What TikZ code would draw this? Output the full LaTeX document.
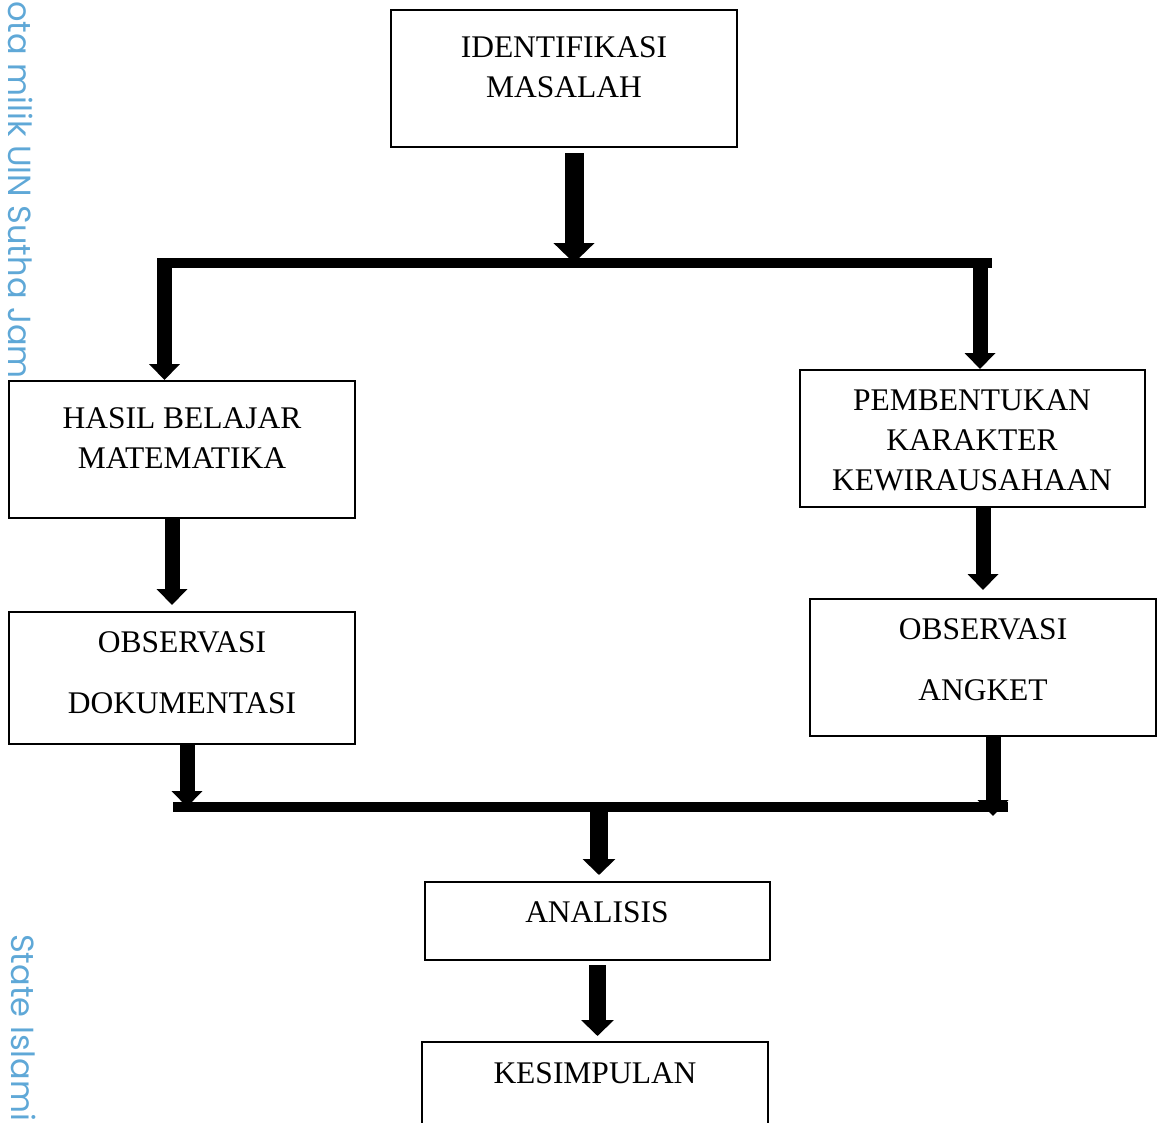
\documentclass[tikz,border=0pt]{standalone}
\usepackage{fontspec}
\setmainfont{Liberation Serif}
\newfontfamily\wmfont{Poppins}
\usetikzlibrary{arrows.meta}
\definecolor{wmblue}{RGB}{95,168,215}

\begin{document}
\begin{tikzpicture}[
                x=1pt, y=-1pt,
                font=\fontsize{31.5}{40}\selectfont,
                box/.style={
                        draw=black, line width=2pt, inner sep=0pt,
                        minimum width=346pt, minimum height=137pt
                    },
                lbl/.style={align=center, inner sep=0pt},
                arr/.style={line width=15pt, -{Triangle[width=30pt,length=16pt]}},
                bigarr/.style={line width=19pt, -{Triangle[width=40pt,length=20pt]}},
                bar/.style={line width=10pt},
                wm/.style={text=wmblue, rotate=-90, anchor=base west, inner sep=0pt,
                        font=\wmfont\fontsize{32}{36}\selectfont}
                ]
                \clip (0,0) rectangle (1159,1122);

                \node[wm] (wmtop) at (9,1) {ota milik UIN Sutha Jam};
                \node[wm] (wmbot) at (12,934) {State Islami};

                \node[box] (idf) at (564,78.5) {};
                \node[lbl] (idftxt) at (564,67) {IDENTIFIKASI\\MASALAH};
                \node[box] (hasil) at (182,449.5) {};
                \node[lbl] (hasiltxt) at (182,438.5) {HASIL BELAJAR\\MATEMATIKA};
                \node[box, minimum width=345pt] (pemb) at (972.5,438.5) {};
                \node[lbl] (pembtxt) at (972,440) {PEMBENTUKAN\\KARAKTER\\KEWIRAUSAHAAN};
                \node[box, minimum height=132pt] (obsdok) at (182,678) {};
                \node[lbl] (obsdoktxt) at (182,672.5) {OBSERVASI\\[21pt]DOKUMENTASI};
                \node[box] (obsang) at (983,667.5) {};
                \node[lbl] (obsangtxt) at (983,659.5) {OBSERVASI\\[21pt]ANGKET};
                \node[box, minimum width=345pt, minimum height=78pt] (analisis) at (597.5,921) {};
                \node[lbl] (analisistxt) at (597,912) {ANALISIS};
                \node[box] (kesimpulan) at (595,1110.5) {};
                \node[lbl] (kesimpulantxt) at (595,1073) {KESIMPULAN};

                \coordinate (split) at (574,263);
                \coordinate (topL) at (164.5,263);
                \coordinate (topR) at (980,263);
                \coordinate (joinL) at (187,807);
                \coordinate (joinR) at (993,807);
                \coordinate (join) at (599,807);

                \draw[bigarr, shorten <=5pt] (idf.south -| split) -- (split);
                \draw[bar] ([xshift=-7.5pt]topL) -- ([xshift=12pt]topR);
                \draw[arr] (topL) -- (hasil.north -| topL);
                \draw[arr] (topR) -- (pemb.north -| topR);
                \draw[arr, shorten >=6pt] ([xshift=-10pt]hasil.south) -- ([xshift=-10pt]obsdok.north);
                \draw[arr, shorten >=8pt] ([xshift=10.5pt]pemb.south) -- (obsang.north);

                \draw[arr] (obsdok.south -| joinL) -- (joinL);
                \draw[arr] (obsang.south -| joinR) -- ([yshift=-9pt]joinR);
                \draw[bar] ([xshift=-14pt]joinL) -- ([xshift=15pt]joinR);
                \draw[arr, line width=18pt, -{Triangle[width=32pt,length=16pt]}, shorten >=6pt] (join) -- (analisis.north -| join);
                \draw[arr, line width=17pt, -{Triangle[width=32pt,length=16pt]}, shorten <=4pt, shorten >=5pt] (analisis.south) -- (analisis.south |- kesimpulan.north);
            \end{tikzpicture}
\end{document}
